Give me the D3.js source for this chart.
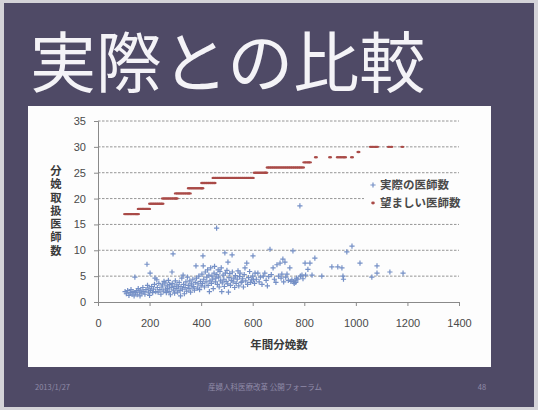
<!DOCTYPE html>
<html>
<head>
<meta charset="utf-8">
<script src="https://cdn.jsdelivr.net/npm/d3@7"></script>
<style>
  html, body { margin: 0; padding: 0; background: #d4d3d8; }
  svg { display: block; }
</style>
</head>
<body>
<svg id="slide" width="538" height="410"></svg>
<script>
// Slide texts
const slideTitle = "実際との比較";
const footerDate = "2013/1/27";
const footerCenter = "産婦人科医療改革 公開フォーラム";
const pageNumber = "48";

// Axis ticks and titles
const xTicks = [0, 200, 400, 600, 800, 1000, 1200, 1400];
const yTicks = [0, 5, 10, 15, 20, 25, 30, 35];
const xTitle = "年間分娩数";
const yTitle = "分娩取扱医師数";
const seriesNames = ["実際の医師数", "望ましい医師数"];

// Actual number of obstetricians per facility: [annual births, doctors]
const actualDoctors = [
  [105,2.0],[110,1.6],[115,2.2],[120,1.3],[125,1.8],[128,2.4],[132,1.5],[136,2.0],[140,1.2],[143,4.8],
  [145,1.8],[150,2.2],[152,1.4],[156,2.6],[160,1.9],[163,1.2],[166,2.3],[170,1.7],[174,2.8],[178,2.0],
  [182,1.5],[186,2.4],[190,7.3],[192,3.2],[195,1.9],[198,2.7],[200,1.3],[202,5.6],[204,2.2],
  [208,3.0],[212,1.8],[215,2.5],[219,3.4],[221,4.6],[224,2.0],[228,4.3],[230,2.8],[233,1.9],[236,3.6],
  [240,2.4],[244,1.5],[248,2.9],[250,3.3],[253,2.1],[256,4.0],[260,3.7],[262,2.5],[265,1.8],[268,3.1],
  [270,2.6],[273,4.2],[276,2.0],[278,3.4],[281,1.4],[284,2.8],[287,5.8],[288,3.6],[291,9.3],[292,2.3],
  [295,3.0],[297,1.7],[300,4.1],
  [303,2.6],[306,3.3],[309,1.9],[312,2.9],[315,3.8],[318,2.2],[320,1.2],[322,3.0],[325,4.6],[328,2.5],
  [330,5.2],[332,3.4],[335,1.6],[338,2.8],[341,3.9],[344,2.1],[347,4.8],[350,3.2],[353,2.6],[356,4.1],
  [359,1.9],[362,3.5],[365,2.9],[368,4.4],[371,3.0],[374,2.3],[377,3.8],[380,7.0],[382,4.6],[385,2.7],
  [388,3.5],[391,5.0],[394,2.4],[397,4.0],[400,3.1],
  [403,5.4],[405,3.6],[407,8.9],[408,7.0],[410,4.4],[413,2.9],[416,5.8],[419,3.9],[422,4.8],[425,6.2],
  [427,3.2],[430,5.2],[432,2.0],[434,4.1],[437,6.6],[440,3.6],[442,5.0],[445,4.4],[447,2.6],[450,5.6],
  [452,6.9],[455,3.9],[457,4.6],[460,14.3],[461,5.3],[463,3.4],[466,6.2],[468,4.8],[470,2.9],[473,5.9],
  [475,4.1],[478,6.6],[480,2.0],[482,3.7],[485,5.2],[488,4.4],[490,3.0],[492,9.5],[494,5.6],[497,4.0],
  [500,6.1],[503,3.5],[504,7.7],[506,1.9],[508,4.7],[511,5.5],[514,3.2],[517,4.2],[520,9.1],[521,5.8],
  [524,3.9],[527,4.6],[530,2.8],[533,5.1],[536,3.6],[540,4.4],[543,6.0],[546,3.1],[549,4.9],[551,5.6],
  [555,3.8],[558,3.9],[561,4.5],[564,2.9],[567,5.3],[570,6.6],[573,4.1],[577,7.5],[580,3.4],[584,4.7],
  [588,5.9],[592,3.8],[596,4.3],[600,5.0],
  [601,8.9],[603,4.3],[607,3.6],[609,5.6],[614,4.4],[620,5.6],[625,3.9],[630,4.8],[636,3.4],[641,5.0],
  [647,5.6],[652,4.2],[657,3.1],[662,4.9],[667,10.2],[672,5.3],[679,6.6],[684,4.4],[690,3.8],[694,7.2],
  [700,5.0],[706,7.5],[710,4.6],[713,5.4],[717,8.3],[720,3.9],[725,7.7],[728,4.8],[733,5.4],[738,4.2],
  [744,6.6],[748,4.0],[752,4.3],[756,9.9],[758,3.9],[761,3.6],[764,4.1],[767,3.8],[770,4.6],[775,4.4],
  [783,18.6],[785,5.0],[791,5.2],[795,4.5],[803,7.5],[805,5.2],
  [814,6.3],[822,7.5],[830,5.2],[841,8.5],[868,5.0],[907,6.8],[930,6.8],[946,6.6],[950,5.0],[952,4.4],
  [965,9.7],[985,10.8],[1016,7.5],[1062,4.8],[1082,7.0],[1082,5.6],[1132,5.8],[1183,5.6]
];

// Desired number of obstetricians: each level with the annual-birth values it covers
const desiredDoctors = [
  { level: 17, births: [105,112,118,125,131,138,145,150,155] },
  { level: 18, births: [158,165,172,178,185,191,198] },
  { level: 19, births: [202,210,218,226,234,242,250] },
  { level: 20, births: [252,260,268,276,284,292,300,305] },
  { level: 21, births: [302,310,318,326,334,342,350,356] },
  { level: 22, births: [352,360,368,376,384,392,400,405] },
  { level: 23, births: [404,412,420,428,436,444,452] },
  { level: 24, births: [448,456,464,472,480,488,496,504,512,520,528,536,544,552,560,568,576,584,592,600] },
  { level: 25, births: [608,616,624,632,640,648,652] },
  { level: 26, births: [658,666,674,682,690,698,706,714,722,730,738,746,754,762,770,778,786,795] },
  { level: 27, births: [800,808,816,822] },
  { level: 28, births: [845,900,930,940,950,958,985] },
  { level: 29, births: [1010] },
  { level: 30, births: [1058,1066,1075,1082,1128,1138,1180] }
];

const svg = d3.select("#slide");
const W = 538, H = 410;

// Slide background
svg.append("rect").attr("x", 4).attr("y", 3).attr("width", W - 8).attr("height", H - 6)
  .attr("fill", "#4f4a66");

svg.append("text").attr("x", 30).attr("y", 87)
  .attr("font-family", "'Noto Sans CJK JP', sans-serif").attr("font-size", 66)
  .attr("fill", "#f4f3f7").text(slideTitle);

// Footer
const footer = svg.append("g").attr("font-family", "'Noto Sans CJK JP', 'Liberation Sans', sans-serif")
  .attr("font-size", 7.5).attr("fill", "#8f8aa8");
footer.append("text").attr("x", 35).attr("y", 390).text(footerDate);
footer.append("text").attr("x", 265).attr("y", 390).attr("text-anchor", "middle").text(footerCenter);
footer.append("text").attr("x", 482).attr("y", 390).attr("text-anchor", "middle").text(pageNumber);

// Chart panel
svg.append("rect").attr("x", 28).attr("y", 106).attr("width", 463).attr("height", 261)
  .attr("fill", "#fdfdfd");

const x = d3.scaleLinear().domain([0, 1400]).range([98, 459]);
const y = d3.scaleLinear().domain([0, 35]).range([302, 121]);

// Gridlines
svg.append("g").selectAll("line").data(yTicks.filter(t => t > 0)).join("line")
  .attr("x1", x(0)).attr("x2", x(1400))
  .attr("y1", d => y(d)).attr("y2", d => y(d))
  .attr("stroke", "#8a8a8a").attr("stroke-width", 0.9).attr("stroke-dasharray", "2.5,1.5");

// Axes
const xAxis = svg.append("g").attr("transform", `translate(0,${y(0)})`)
  .call(d3.axisBottom(x).tickValues(xTicks).tickSize(4).tickPadding(13).tickFormat(d3.format("d")));
const yAxis = svg.append("g").attr("transform", `translate(${x(0)},0)`)
  .call(d3.axisLeft(y).tickValues(yTicks).tickSize(4).tickPadding(8).tickFormat(d3.format("d")));
[xAxis, yAxis].forEach(a => {
  a.select(".domain").attr("stroke", "#8a8a8a");
  a.selectAll(".tick line").attr("stroke", "#8a8a8a");
  a.selectAll(".tick text").attr("font-family", "'Liberation Sans', Arial, sans-serif")
    .attr("font-size", 11).attr("fill", "#4a4a4a");
});

// Axis titles
svg.append("text").attr("x", 279).attr("y", 349).attr("text-anchor", "middle")
  .attr("font-family", "'Noto Sans CJK JP', sans-serif").attr("font-size", 11.5)
  .attr("font-weight", "bold").attr("fill", "#3a3a3a").text(xTitle);
svg.append("text").attr("x", 56).attr("y", 165)
  .attr("style", "writing-mode: vertical-rl; text-orientation: upright;")
  .attr("letter-spacing", 2)
  .attr("font-family", "'Noto Sans CJK JP', sans-serif").attr("font-size", 11.3)
  .attr("font-weight", "bold").attr("fill", "#3a3a3a").text(yTitle);

// Desired doctors: small dark-red dots
const redColor = "#a94a47";
const desiredPoints = desiredDoctors.flatMap(g => g.births.map(b => [b, g.level]));
svg.append("g").selectAll("ellipse").data(desiredPoints).join("ellipse")
  .attr("cx", d => x(d[0])).attr("cy", d => y(d[1]))
  .attr("rx", 2.1).attr("ry", 1.2).attr("fill", redColor);

// Actual doctors: blue plus markers
const blueColor = "#7590c6";
svg.append("g").selectAll("path").data(actualDoctors).join("path")
  .attr("d", d => `M${x(d[0]) - 2.6},${y(d[1])}h5.2M${x(d[0])},${y(d[1]) - 2.6}v5.2`)
  .attr("stroke", blueColor).attr("stroke-width", 1.2).attr("fill", "none");

// Legend
const legend = svg.append("g");
legend.append("rect").attr("x", 364).attr("y", 176).attr("width", 94).attr("height", 38).attr("fill", "#fdfdfd");
legend.append("path").attr("d", "M370.4,185h5.2M373,182.4v5.2")
  .attr("stroke", blueColor).attr("stroke-width", 1.2);
legend.append("ellipse").attr("cx", 373).attr("cy", 203).attr("rx", 1.8).attr("ry", 1.4).attr("fill", redColor);
legend.selectAll("text").data(seriesNames).join("text")
  .attr("x", 380).attr("y", (d, i) => 189 + i * 18)
  .attr("font-family", "'Noto Sans CJK JP', sans-serif").attr("font-size", 11.5)
  .attr("font-weight", "bold").attr("fill", "#4a4a4a").text(d => d);
</script>
</body>
</html>
